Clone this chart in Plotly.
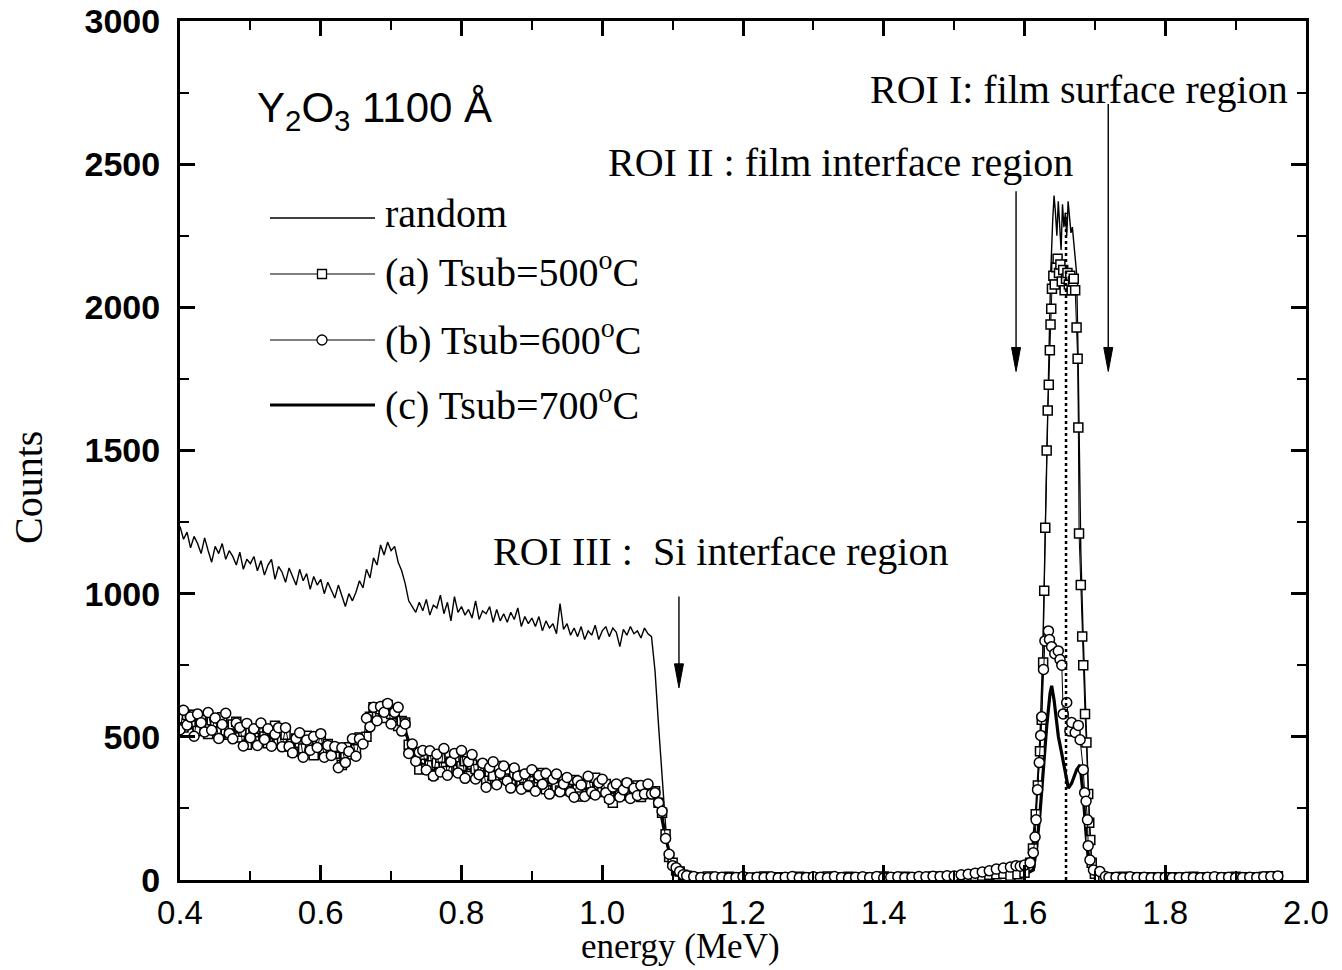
import plotly.graph_objects as go

# ---------------- data ----------------
# low-energy part, channel energies (MeV)
E_low = [0.400, 0.405, 0.410, 0.415, 0.420, 0.425, 0.430, 0.435, 0.440, 0.445,
         0.450, 0.455, 0.460, 0.465, 0.470, 0.475, 0.480, 0.485, 0.490, 0.495,
         0.500, 0.505, 0.510, 0.515, 0.520, 0.525, 0.530, 0.535, 0.540, 0.545,
         0.550, 0.555, 0.560, 0.565, 0.570, 0.575, 0.580, 0.585, 0.590, 0.595,
         0.600, 0.605, 0.610, 0.615, 0.620, 0.625, 0.630, 0.635, 0.640, 0.645,
         0.650, 0.655, 0.660, 0.665, 0.670, 0.675, 0.680, 0.685, 0.690, 0.695,
         0.700, 0.705, 0.710, 0.715, 0.720, 0.725, 0.730, 0.735, 0.740, 0.745,
         0.750, 0.755, 0.760, 0.765, 0.770, 0.775, 0.780, 0.785, 0.790, 0.795,
         0.800, 0.805, 0.810, 0.815, 0.820, 0.825, 0.830, 0.835, 0.840, 0.845,
         0.850, 0.855, 0.860, 0.865, 0.870, 0.875, 0.880, 0.885, 0.890, 0.895,
         0.900, 0.905, 0.910, 0.915, 0.920, 0.925, 0.930, 0.935, 0.940, 0.945,
         0.950, 0.955, 0.960, 0.965, 0.970, 0.975, 0.980, 0.985, 0.990, 0.995,
         1.000, 1.005, 1.010, 1.015, 1.020, 1.025, 1.030, 1.035, 1.040, 1.045,
         1.050, 1.055, 1.060, 1.065, 1.070, 1.075, 1.080, 1.085, 1.090, 1.095,
         1.100, 1.105, 1.110, 1.115, 1.120]

random_low = [1235, 1190, 1215, 1160, 1200, 1175, 1140, 1195, 1150, 1110,
              1165, 1140, 1175, 1120, 1150, 1130, 1100, 1145, 1085, 1120,
              1105, 1130, 1080, 1115, 1065, 1100, 1120, 1050, 1095, 1075,
              1040, 1090, 1060, 1030, 1085, 1045, 1070, 1015, 1060, 1030,
              1050, 1000, 1040, 1015, 985, 1030, 990, 955, 1000, 975,
              1005, 1045, 1020, 1085, 1055, 1125, 1100, 1170, 1135, 1180,
              1150, 1165, 1110, 1080, 1035, 975, 955, 935, 970, 940,
              980, 925, 960, 950, 995, 930, 970, 905, 990, 935,
              955, 925, 945, 915, 975, 910, 940, 930, 955, 900,
              945, 905, 930, 900, 935, 910, 950, 885, 920, 895,
              915, 885, 920, 870, 905, 880, 895, 860, 965, 875,
              895, 855, 880, 850, 885, 840, 870, 855, 890, 840,
              870, 885, 850, 880, 865, 815, 875, 855, 885, 860,
              870, 845, 880, 860, 850, 730, 540, 345, 190, 60,
              30, 18, 12, 10, 10]

a_low = [565, 533, 576, 544, 577, 520, 559, 542, 510, 558,
         541, 519, 568, 522, 507, 543, 553, 498, 518, 472,
         522, 508, 485, 528, 501, 478, 522, 539, 477, 490,
         507, 466, 449, 494, 479, 459, 504, 468, 436, 478,
         491, 444, 475, 440, 441, 462, 402, 440, 464, 438,
         457, 498, 495, 500, 570, 603, 581, 596, 566, 611,
         580, 591, 538, 555, 550, 472, 445, 445, 386, 437,
         389, 401, 368, 409, 427, 394, 381, 413, 427, 384,
         397, 415, 363, 403, 388, 368, 398, 349, 378, 363,
         398, 353, 368, 386, 336, 366, 367, 342, 325, 370,
         345, 330, 355, 374, 317, 345, 352, 325, 313, 350,
         333, 311, 349, 317, 292, 332, 337, 302, 357, 320,
         307, 335, 287, 270, 325, 295, 305, 335, 300, 310,
         330, 290, 320, 315, 300, 310, 270, 235, 160, 80,
         60, 33, 30, 18, 15]

b_low = [525, 593, 541, 569, 502, 580, 549, 517, 585, 523,
         566, 494, 543, 582, 512, 493, 548, 533, 468, 547,
         497, 528, 470, 548, 491, 528, 467, 509, 532, 465,
         532, 466, 444, 494, 514, 429, 489, 453, 501, 463,
         511, 429, 470, 435, 466, 392, 462, 410, 449, 493,
         432, 493, 475, 565, 535, 603, 556, 606, 586, 616,
         545, 586, 603, 520, 545, 442, 475, 415, 446, 452,
         384, 451, 363, 439, 377, 459, 366, 413, 442, 374,
         452, 355, 413, 438, 353, 368, 408, 324, 393, 413,
         333, 373, 398, 346, 321, 391, 362, 317, 370, 330,
         385, 310, 365, 334, 372, 300, 352, 370, 308, 335,
         358, 306, 289, 347, 332, 292, 362, 307, 297, 340,
         352, 305, 282, 325, 335, 290, 315, 340, 285, 320,
         295, 330, 300, 335, 300, 305, 270, 240, 145, 90,
         50, 43, 30, 18, 15]

E_low_c = [0.40, 0.41, 0.42, 0.43, 0.44, 0.45, 0.46, 0.47, 0.48, 0.49,
           0.50, 0.51, 0.52, 0.53, 0.54, 0.55, 0.56, 0.57, 0.58, 0.59,
           0.60, 0.61, 0.62, 0.63, 0.64, 0.65, 0.66, 0.67, 0.68, 0.69,
           0.70, 0.71, 0.72, 0.73, 0.74, 0.75, 0.76, 0.77, 0.78, 0.79,
           0.80, 0.81, 0.82, 0.83, 0.84, 0.85, 0.86, 0.87, 0.88, 0.89,
           0.90, 0.91, 0.92, 0.93, 0.94, 0.95, 0.96, 0.97, 0.98, 0.99,
           1.00, 1.01, 1.02, 1.03, 1.04, 1.05, 1.06, 1.07, 1.08, 1.09,
           1.10, 1.11, 1.12]
c_low = [550, 560, 540, 548, 535, 545, 528, 535, 520, 510,
         505, 495, 510, 500, 492, 480, 470, 478, 468, 472,
         460, 455, 440, 425, 445, 455, 480, 545, 585, 580,
         578, 560, 520, 450, 410, 398, 390, 400, 395, 405,
         392, 390, 380, 372, 370, 362, 365, 358, 350, 348,
         342, 346, 338, 336, 330, 328, 322, 325, 318, 320,
         315, 312, 308, 312, 305, 310, 306, 300, 275, 150,
         50, 22, 12]

# flat background between the Si edge and the Y peak
E_flat = [1.13, 1.14, 1.15, 1.16, 1.17, 1.18, 1.19, 1.20, 1.21, 1.22,
          1.23, 1.24, 1.25, 1.26, 1.27, 1.28, 1.29, 1.30, 1.31, 1.32,
          1.33, 1.34, 1.35, 1.36, 1.37, 1.38, 1.39, 1.40, 1.41, 1.42,
          1.43, 1.44, 1.45, 1.46, 1.47, 1.48, 1.49, 1.50, 1.51, 1.52,
          1.53, 1.54, 1.55, 1.56, 1.57]
random_flat = [15, 12, 18, 10, 14, 16, 11, 13, 17, 12,
               15, 10, 14, 18, 12, 16, 11, 13, 15, 12,
               17, 14, 10, 16, 13, 15, 12, 18, 11, 14,
               16, 13, 12, 15, 17, 14, 13, 16, 18, 15,
               17, 15, 16, 18, 20]
a_flat = [10, 8, 12, 7, 9, 11, 8, 10, 7, 9,
          12, 8, 10, 9, 7, 11, 9, 8, 10, 12,
          8, 9, 11, 7, 10, 9, 8, 12, 10, 9,
          11, 8, 10, 9, 12, 10, 11, 9, 13, 12,
          14, 15, 18, 20, 22]
b_flat = [12, 9, 8, 11, 10, 7, 9, 12, 8, 10,
          9, 11, 7, 10, 12, 8, 9, 11, 10, 8,
          12, 9, 7, 10, 11, 9, 12, 8, 10, 11,
          9, 10, 12, 11, 13, 12, 15, 14, 18, 20,
          24, 28, 32, 38, 42]
c_flat = [8, 7, 8, 9, 7, 8, 8, 7, 9, 8,
          7, 8, 8, 9, 7, 8, 7, 8, 9, 8,
          8, 7, 8, 8, 9, 7, 8, 8, 7, 9,
          8, 8, 7, 9, 8, 8, 9, 8, 10, 9,
          10, 11, 12, 14, 15]

# Y surface peak
E_peak_random = [1.580, 1.590, 1.600, 1.610, 1.616, 1.622, 1.626, 1.630, 1.634, 1.637,
                 1.640, 1.642, 1.644, 1.646, 1.648, 1.650, 1.652, 1.654, 1.656, 1.658,
                 1.660, 1.662, 1.664, 1.666, 1.668, 1.670, 1.672, 1.674, 1.676, 1.678,
                 1.680, 1.683, 1.686, 1.689, 1.692, 1.695, 1.700, 1.710]
random_peak = [20, 22, 30, 100, 250, 500, 800, 1300, 1800, 2100,
               2300, 2390, 2330, 2250, 2370, 2300, 2200, 2360, 2280, 2330,
               2250, 2370, 2320, 2260, 2280, 2230, 2180, 2120, 1850, 1400,
               1150, 880, 640, 420, 220, 80, 25, 15]

E_peak_a = [1.580, 1.590, 1.600, 1.608, 1.612, 1.616, 1.619, 1.622, 1.6245, 1.6265,
            1.628, 1.6295, 1.6315, 1.633, 1.6345, 1.636, 1.637, 1.638, 1.639, 1.641,
            1.643, 1.645, 1.647, 1.649, 1.651, 1.653, 1.655, 1.657, 1.659, 1.661,
            1.663, 1.665, 1.667, 1.669, 1.670, 1.672, 1.674, 1.6755, 1.6765, 1.6775,
            1.680, 1.682, 1.6835, 1.686, 1.688, 1.6905, 1.692, 1.6935, 1.6955, 1.700,
            1.706, 1.712]
a_peak = [15, 20, 25, 60, 110, 230, 330, 450, 560, 760,
          1010, 1230, 1500, 1640, 1730, 1850, 1940, 1995, 2065, 2110,
          2080, 2140, 2170, 2120, 2150, 2090, 2130, 2060, 2100, 2120,
          2080, 2110, 2060, 2090, 2100, 2060, 1930, 1820, 1580, 1210,
          1030, 850, 750, 580, 480, 300, 200, 140, 60, 22,
          12, 10]

E_peak_b = [1.580, 1.588, 1.594, 1.600, 1.608, 1.6125, 1.615, 1.6165, 1.6185, 1.621,
            1.623, 1.6245, 1.627, 1.629, 1.634, 1.6355, 1.6385, 1.643, 1.648, 1.6505,
            1.653, 1.655, 1.660, 1.6645, 1.667, 1.672, 1.6765, 1.679, 1.6835, 1.6855,
            1.6875, 1.6895, 1.6905, 1.693, 1.698, 1.707, 1.715]
b_peak = [45, 50, 48, 52, 60, 95, 150, 210, 315, 410,
          505, 570, 735, 835, 870, 840, 815, 790, 800, 770,
          750, 580, 620, 520, 550, 515, 540, 490, 385, 305,
          275, 210, 120, 70, 35, 30, 12]

E_peak_c = [1.580, 1.595, 1.605, 1.6126, 1.6173, 1.622, 1.6268, 1.6315, 1.6363, 1.6386,
            1.642, 1.6481, 1.6528, 1.6576, 1.6623, 1.667, 1.6741, 1.6789, 1.6836, 1.6874,
            1.6907, 1.6955, 1.7026, 1.710]
c_peak = [15, 20, 25, 35, 117, 233, 396, 536, 652, 678,
          629, 501, 443, 373, 321, 338, 385, 402, 291, 163,
          70, 35, 20, 10]

# high-energy tail
E_tail = [1.72, 1.73, 1.74, 1.75, 1.76, 1.77, 1.78, 1.79, 1.80, 1.81,
          1.82, 1.83, 1.84, 1.85, 1.86, 1.87, 1.88, 1.89, 1.90, 1.91,
          1.92, 1.93, 1.94, 1.95, 1.96]
random_tail = [14, 12, 15, 11, 13, 12, 14, 10, 13, 12,
               11, 13, 15, 12, 14, 11, 13, 12, 14, 13,
               12, 14, 13, 15, 16]
a_tail = [10, 9, 11, 8, 10, 9, 10, 8, 9, 10,
          8, 9, 11, 10, 9, 8, 10, 9, 11, 10,
          9, 10, 11, 12, 13]
b_tail = [9, 10, 8, 11, 9, 10, 8, 9, 10, 8,
          9, 10, 9, 8, 10, 11, 9, 10, 8, 9,
          10, 9, 11, 12, 14]
c_tail = [8, 8, 9, 8, 8, 9, 8, 8, 9, 8,
          8, 9, 8, 8, 9, 8, 8, 9, 8, 8,
          9, 8, 9, 10, 11]

x_tick_values = [0.4, 0.6, 0.8, 1.0, 1.2, 1.4, 1.6, 1.8, 2.0]
y_tick_values = [0, 500, 1000, 1500, 2000, 2500, 3000]

# ROI markers (energy, arrow tip counts, arrow tail counts)
roi_arrows = [(1.109, 671, 990), (1.588, 1776, 2405), (1.719, 1776, 2710)]
surface_line_E = 1.659
surface_line_top = 2330

# ---------------- figure ----------------
E_random = E_low + E_flat + E_peak_random + E_tail
Y_random = random_low + random_flat + random_peak + random_tail
E_a = E_low + E_flat + E_peak_a + E_tail
Y_a = a_low + a_flat + a_peak + a_tail
E_b = E_low + E_flat + E_peak_b + E_tail
Y_b = b_low + b_flat + b_peak + b_tail
E_c = E_low_c + E_flat + E_peak_c + E_tail
Y_c = c_low + c_flat + c_peak + c_tail

W, H = 1342, 970
# plot-area geometry (pixels)
PL, PR, PT, PB = 180, 1306, 21, 880
PW, PH = PR - PL, PB - PT


def px(xp):
    return (xp - PL) / PW


def py(yp):
    return (PB - yp) / PH


fig = go.Figure()
fig.add_trace(go.Scatter(x=E_random, y=Y_random, mode="lines",
                         line=dict(color="black", width=1.4), name="random"))
fig.add_trace(go.Scatter(x=E_c, y=Y_c, mode="lines",
                         line=dict(color="black", width=3.2), name="(c) Tsub=700oC"))
fig.add_trace(go.Scatter(x=E_a, y=Y_a, mode="lines+markers",
                         line=dict(color="black", width=1),
                         marker=dict(symbol="square", size=9, color="white",
                                     line=dict(color="black", width=1.5)),
                         name="(a) Tsub=500oC"))
fig.add_trace(go.Scatter(x=E_b, y=Y_b, mode="lines+markers",
                         line=dict(color="black", width=1),
                         marker=dict(symbol="circle", size=10, color="white",
                                     line=dict(color="black", width=1.5)),
                         name="(b) Tsub=600oC"))

serif = "Liberation Serif, Times New Roman, serif"
sans = "Liberation Sans, Arial, sans-serif"

shapes = []
annotations = []

# dotted surface line
shapes.append(dict(type="line", xref="x", yref="y", x0=surface_line_E, x1=surface_line_E,
                   y0=0, y1=surface_line_top, line=dict(color="black", width=2.5, dash="dot")))

# arrows
for (ex, tip, tail) in roi_arrows:
    shapes.append(dict(type="line", xref="x", yref="y", x0=ex, x1=ex, y0=tip + 40, y1=tail,
                       line=dict(color="black", width=1.4)))
    shapes.append(dict(type="path", xref="x", yref="y", xsizemode="pixel", ysizemode="pixel",
                       xanchor=ex, yanchor=tip, path="M-4.5,24 L0,0 L4.5,24 Z",
                       fillcolor="black", line=dict(color="black", width=1)))

# legend samples
for (yy, w) in [(218, 1.4), (274, 1.1), (340, 1.1), (405, 3.2)]:
    shapes.append(dict(type="line", xref="paper", yref="paper", x0=px(270), x1=px(375),
                       y0=py(yy), y1=py(yy), line=dict(color="black", width=w)))
shapes.append(dict(type="rect", xref="paper", yref="paper", xsizemode="pixel", ysizemode="pixel",
                   xanchor=px(322), yanchor=py(274), x0=-4.5, x1=4.5, y0=-4.5, y1=4.5,
                   fillcolor="white", line=dict(color="black", width=1.3)))
shapes.append(dict(type="circle", xref="paper", yref="paper", xsizemode="pixel", ysizemode="pixel",
                   xanchor=px(322), yanchor=py(340), x0=-5, x1=5, y0=-5, y1=5,
                   fillcolor="white", line=dict(color="black", width=1.3)))

legend_texts = [("random", 214), ("(a) Tsub=500<sup>o</sup>C", 269),
                ("(b) Tsub=600<sup>o</sup>C", 337), ("(c) Tsub=700<sup>o</sup>C", 402)]
for (txt, yy) in legend_texts:
    annotations.append(dict(text=txt, xref="paper", yref="paper", x=px(383), y=py(yy),
                            xanchor="left", yanchor="middle", showarrow=False,
                            font=dict(family=serif, size=40, color="black")))

annotations.append(dict(text="Y<sub>2</sub>O<sub>3</sub> 1100 Å", xref="paper", yref="paper",
                        x=px(255), y=py(110), xanchor="left", yanchor="middle", showarrow=False,
                        font=dict(family=sans, size=42, color="black")))

roi_texts = [("ROI I: film surface region", 1079, 89),
             ("ROI II : film interface region", 840, 162),
             ("ROI III :&nbsp; Si interface region", 720, 551)]
for (txt, xx, yy) in roi_texts:
    annotations.append(dict(text=txt, xref="paper", yref="paper", x=px(xx), y=py(yy),
                            xanchor="center", yanchor="middle", showarrow=False,
                            font=dict(family=serif, size=40, color="black")))

# axis titles
annotations.append(dict(text="Counts", xref="paper", yref="paper", x=px(28), y=py(488),
                        xanchor="center", yanchor="middle", textangle=-90, showarrow=False,
                        font=dict(family=serif, size=40, color="black")))
annotations.append(dict(text="energy (MeV)", xref="paper", yref="paper", x=px(680), y=py(946),
                        xanchor="center", yanchor="middle", showarrow=False,
                        font=dict(family=serif, size=35, color="black")))

axis_common = dict(showline=True, linewidth=3, linecolor="black", mirror="ticks",
                   ticks="inside", ticklen=15, tickwidth=2.5, tickcolor="black",
                   showgrid=False, zeroline=False, automargin=False)

fig.update_layout(
    width=W, height=H,
    margin=dict(l=PL, r=W - PR, t=PT, b=H - PB, autoexpand=False),
    paper_bgcolor="white", plot_bgcolor="white",
    showlegend=False,
    xaxis=dict(range=[0.4, 2.0], tickvals=x_tick_values, tickformat=".1f",
               tickfont=dict(family=sans, size=33, color="black"),
               ticklabelstandoff=1,
               minor=dict(ticks="inside", ticklen=9, tickwidth=2, dtick=0.1, tick0=0.4,
                          tickcolor="black", showgrid=False),
               **axis_common),
    yaxis=dict(range=[0, 3000], tickvals=y_tick_values,
               tickfont=dict(family=sans, size=34, color="black", weight="bold"),
               ticklabelstandoff=10,
               minor=dict(ticks="inside", ticklen=9, tickwidth=2, dtick=250, tick0=0,
                          tickcolor="black", showgrid=False),
               **axis_common),
    shapes=shapes,
    annotations=annotations,
)

fig.write_html("out.html")
